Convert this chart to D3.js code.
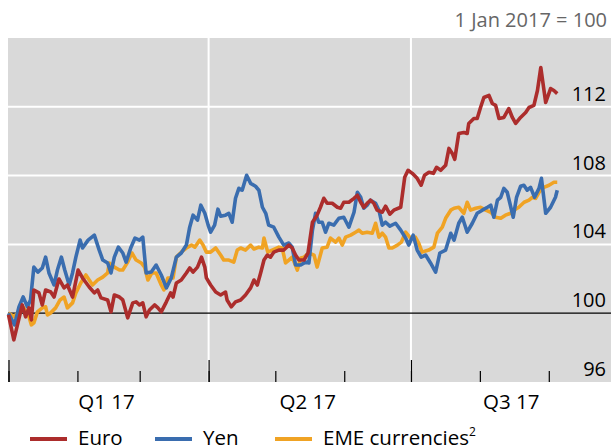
<!DOCTYPE html>
<meta charset="utf-8">
<title>Exchange rates, 1 Jan 2017 = 100</title>
<style>
body { margin: 0; background: #fff; }
svg text { font-family: "Open Sans", sans-serif; }
.ylab { font-size: 20px; fill: #000; text-anchor: end; }
.qlab { font-size: 20.5px; fill: #000; text-anchor: middle; }
.unit { font-size: 20px; fill: #666; text-anchor: end; }
.legend text { font-size: 20.5px; fill: #000; }
</style>
<svg id="chart" width="611" height="447"></svg>
<script src="https://d3js.org/d3.v7.min.js"></script>
<script>

// [days since 1 Jan 2017, index]
var euro = [
  [0,99.90],[2.4,98.45],[6.2,100.48],[7.7,99.79],[9.2,100.31],[10.3,99.61],[11.4,101.35],[13.7,101.18],
  [15.2,100.48],[16.7,101.35],[19.0,101.23],[20.5,100.94],[22.7,101.99],[25.0,101.47],[26.5,101.64],
  [28.8,100.94],[31.3,102.51],[33.3,102.05],[36.3,101.52],[38.6,101.18],[40.1,101.35],[41.6,100.89],
  [44.6,100.77],[46.1,100.08],[47.6,101.06],[49.9,100.94],[51.4,100.77],[53.6,99.73],[55.9,100.60],
  [57.4,100.66],[58.9,100.48],[60.4,100.60],[61.9,99.79],[63.4,100.19],[65.7,100.48],[67.2,100.31],
  [68.7,100.08],[71.0,100.66],[72.9,101.18],[74.0,100.94],[75.5,101.76],[77.7,101.93],[80.0,102.34],
  [81.5,102.63],[83.0,102.39],[85.0,102.68],[86.8,103.26],[88.3,102.68],[89.0,102.05],[90.9,101.64],
  [93.2,101.23],[95.4,101.06],[97.6,101.23],[98.3,100.77],[100.2,100.37],[102.1,100.66],[104.4,100.77],
  [106.6,101.06],[108.9,101.47],[110.4,101.93],[111.9,101.64],[113.4,102.34],[114.9,103.09],[116.4,103.38],
  [117.8,103.26],[119.3,103.55],[121.6,103.67],[123.8,103.67],[126.1,103.96],[127.6,103.79],[129.1,103.38],
  [130.6,103.09],[132.9,103.09],[134.7,103.50],[136.7,105.29],[138.8,105.70],[140.3,106.16],[141.8,106.68],
  [143.3,106.39],[145.6,106.39],[147.9,106.16],[149.4,106.10],[150.8,106.45],[153.1,106.45],[155.4,106.68],
  [156.9,106.86],[158.4,106.45],[159.8,106.16],[161.3,106.39],[162.8,106.57],[164.3,106.39],[165.8,105.99],
  [168.1,105.87],[169.6,106.22],[171.5,105.76],[173.3,105.99],[176.4,106.16],[178.2,107.90],[179.7,108.31],
  [181.6,108.13],[183.8,107.84],[185.6,107.44],[187.1,108.02],[189.1,108.19],[191.1,108.13],[192.5,108.48],
  [194.4,108.31],[196.6,108.60],[198.1,109.58],[199.6,109.29],[200.7,108.95],[202.5,110.45],[204.8,110.51],
  [206.3,110.45],[207.0,111.03],[209.3,111.32],[210.8,111.32],[212.3,111.96],[213.8,112.54],[216.1,112.66],
  [217.6,112.19],[219.1,112.08],[220.6,111.32],[222.8,111.38],[225.0,111.90],[226.6,111.38],[228.1,111.03],
  [230.3,111.38],[232.6,111.67],[234.1,111.96],[236.3,112.08],[237.9,112.95],[239.4,114.28],[241.6,112.25],
  [243.8,113.06],[245.3,112.95],[246.8,112.77]
];

var yen = [
  [0,100.00],[2.7,99.32],[4.7,100.37],[6.6,100.95],[8.5,100.37],[9.9,100.77],[11.4,102.68],[13.2,102.39],
  [15.2,102.63],[16.7,103.26],[18.2,102.34],[20.5,101.64],[22.0,102.51],[23.8,103.26],[25.3,102.51],
  [27.3,101.64],[28.8,102.34],[30.3,103.26],[32.2,104.25],[33.3,103.79],[35.8,104.25],[38.6,104.54],
  [40.8,103.67],[42.4,103.09],[44.6,102.92],[46.1,102.34],[47.6,103.26],[49.4,103.84],[51.4,103.50],
  [52.9,102.97],[55.1,103.84],[56.9,104.37],[58.9,104.25],[60.4,104.42],[61.9,102.34],[64.2,102.39],
  [66.4,102.80],[68.7,102.22],[71.0,101.47],[73.2,102.05],[75.5,103.26],[77.7,103.50],[80.0,103.96],
  [81.5,105.00],[83.0,105.70],[85.0,105.41],[86.5,106.28],[88.3,105.81],[89.8,105.12],[90.9,104.71],
  [92.7,105.12],[94.2,106.05],[95.4,105.64],[97.6,105.70],[99.1,105.81],[100.6,105.29],[102.1,106.68],
  [103.6,107.26],[105.1,107.15],[107.1,108.02],[108.9,107.55],[111.1,107.38],[112.6,107.15],[114.2,106.16],
  [115.7,105.81],[117.0,105.12],[119.3,105.00],[121.6,104.42],[123.8,103.96],[126.1,104.08],[127.6,103.84],
  [129.1,102.80],[131.4,102.80],[133.6,102.97],[135.1,102.92],[136.7,104.83],[138.1,105.81],[139.5,105.29],
  [141.1,105.29],[142.6,104.71],[144.1,105.23],[146.3,105.12],[148.6,105.52],[150.8,105.58],[153.1,105.00],
  [155.4,105.87],[156.9,107.03],[158.4,106.74],[159.8,106.10],[161.3,106.28],[162.8,106.57],[165.1,106.39],
  [166.6,105.99],[168.1,105.12],[169.6,105.29],[171.5,105.06],[174.1,105.23],[176.4,104.83],[178.6,104.37],
  [180.0,103.96],[182.0,104.54],[183.8,103.67],[185.6,103.26],[187.6,103.38],[189.8,102.92],[192.1,102.39],
  [194.0,103.50],[196.6,103.67],[198.9,104.65],[200.4,104.25],[202.5,105.23],[204.1,105.58],[206.3,104.71],
  [208.6,105.23],[210.8,105.81],[213.1,105.99],[215.4,106.16],[216.9,106.28],[218.3,105.58],[219.9,106.57],
  [221.4,106.74],[222.8,107.26],[224.3,107.03],[227.0,105.58],[228.5,106.74],[230.3,107.38],[231.8,107.44],
  [233.3,107.15],[234.8,107.32],[236.6,106.74],[238.6,107.26],[239.7,107.84],[241.6,105.81],[243.8,106.16],
  [246.0,106.74],[246.8,107.15]
];

var eme = [
  [0,100.02],[2.4,99.79],[4.7,100.08],[6.9,100.31],[9.2,99.79],[10.3,99.32],[11.4,99.44],[13.0,100.08],
  [15.2,100.31],[16.7,100.37],[17.5,99.90],[19.0,100.02],[21.2,100.31],[23.2,100.77],[25.0,100.94],
  [26.5,100.31],[28.8,100.60],[30.3,101.18],[32.5,101.76],[34.8,102.22],[36.3,101.93],[37.8,101.64],
  [40.1,101.93],[42.4,102.10],[44.6,102.34],[45.3,102.92],[47.6,102.68],[49.9,102.51],[51.4,102.51],
  [53.6,102.97],[55.5,103.50],[57.4,103.09],[59.7,102.92],[61.2,102.68],[62.7,101.93],[64.5,102.34],
  [66.4,102.34],[68.7,101.64],[69.9,101.35],[71.7,102.05],[74.0,102.05],[75.5,103.26],[77.7,103.55],
  [80.0,103.79],[82.3,103.96],[83.8,103.84],[86.0,104.25],[87.5,103.96],[89.0,103.55],[90.9,103.55],
  [93.2,103.79],[95.4,103.38],[96.8,103.09],[99.1,103.09],[101.3,102.97],[102.9,103.67],[104.4,103.79],
  [106.6,103.67],[108.9,103.96],[110.4,103.73],[112.6,103.84],[114.2,103.79],[114.9,104.37],[116.6,103.55],
  [118.6,103.67],[121.6,103.84],[123.1,103.79],[124.6,102.92],[126.1,103.09],[127.6,103.26],[129.9,102.51],
  [131.4,103.21],[132.9,103.26],[135.1,103.50],[137.4,103.38],[138.8,102.68],[141.1,103.79],[143.3,103.84],
  [144.8,104.37],[147.1,104.13],[148.6,104.37],[150.1,103.96],[151.6,104.42],[153.9,104.54],[156.1,104.71],
  [157.6,104.83],[159.1,104.65],[161.3,104.71],[163.6,104.65],[165.1,105.23],[166.6,104.42],[168.1,104.65],
  [169.6,104.42],[171.1,103.79],[172.6,103.79],[174.9,103.96],[176.7,104.13],[178.6,104.71],[180.8,104.37],
  [183.0,104.42],[184.5,104.08],[186.0,103.55],[189.0,103.67],[191.3,103.84],[192.9,104.65],[195.1,105.00],
  [196.6,105.52],[198.9,105.99],[200.4,106.10],[202.5,106.16],[204.8,105.81],[206.3,106.45],[207.8,105.99],
  [210.1,106.10],[212.3,106.16],[214.6,105.99],[216.9,105.87],[219.1,105.58],[221.4,105.52],[223.5,105.70],
  [225.8,105.81],[227.3,105.99],[229.5,106.16],[231.9,106.45],[234.1,106.57],[235.6,106.74],[237.1,106.68],
  [238.6,107.03],[240.8,107.32],[243.1,107.44],[245.3,107.61],[246.8,107.61]
];

var series = [
  {name: "EME currencies", sup: "2", data: eme, color: "#f0a324"},
  {name: "Yen", data: yen, color: "#3a6daf"},
  {name: "Euro", data: euro, color: "#ac2d2c"}
];
var legendOrder = ["Euro", "Yen", "EME currencies"];
var yTicks = [96, 100, 104, 108, 112];
var quarters = ["Q1 17", "Q2 17", "Q3 17"];

var start = new Date(2017, 0, 1);
var end = new Date(2017, 9, 1);
function dayToDate(d) { return new Date(start.getTime() + d * 864e5); }

var plot = {left: 8, right: 611, top: 38, bottom: 382};

var x = d3.scaleTime()
    .domain([start, end])
    .range([8.5, 615.5]);

var y = d3.scaleLinear()
    .domain([96, 116])
    .range([plot.bottom, plot.top]);

var svg = d3.select("#chart");

svg.append("rect")
    .attr("x", plot.left).attr("y", plot.top)
    .attr("width", plot.right - plot.left)
    .attr("height", plot.bottom - plot.top)
    .attr("fill", "#d9d9d9");

// horizontal grid
svg.selectAll(".hgrid")
    .data(yTicks.filter(function(t) { return t > 100; }))
    .enter().append("line")
    .attr("x1", plot.left).attr("x2", plot.right)
    .attr("y1", function(d) { return y(d); })
    .attr("y2", function(d) { return y(d); })
    .attr("stroke", "#fff").attr("stroke-width", 2);

// vertical grid at quarter starts
var qStarts = d3.timeMonth.every(3).range(start, end);
svg.selectAll(".vgrid")
    .data(qStarts.slice(1))
    .enter().append("line")
    .attr("x1", function(d) { return x(d); })
    .attr("x2", function(d) { return x(d); })
    .attr("y1", plot.top).attr("y2", plot.bottom)
    .attr("stroke", "#fff").attr("stroke-width", 2);

// ticks inside the plot, from the bottom edge
svg.append("g")
    .attr("transform", "translate(0," + plot.bottom + ")")
    .call(d3.axisTop(x).ticks(d3.timeMonth.every(1)).tickSize(11).tickFormat(""))
    .call(function(g) { g.select(".domain").remove(); });

svg.append("g")
    .attr("transform", "translate(0," + plot.bottom + ")")
    .call(d3.axisTop(x).ticks(d3.timeMonth.every(3)).tickSize(22).tickFormat(""))
    .call(function(g) { g.select(".domain").remove(); });

svg.selectAll(".tick line").attr("stroke", "#000").attr("stroke-width", 1.2);

// base line at 100
svg.append("line")
    .attr("x1", plot.left).attr("x2", plot.right)
    .attr("y1", y(100)).attr("y2", y(100))
    .attr("stroke", "#000").attr("stroke-width", 1.3);

var line = d3.line()
    .x(function(d) { return x(dayToDate(d[0])); })
    .y(function(d) { return y(d[1]); });

svg.selectAll(".series")
    .data(series)
    .enter().append("path")
    .attr("d", function(d) { return line(d.data); })
    .attr("fill", "none")
    .attr("stroke", function(d) { return d.color; })
    .attr("stroke-width", 3.6)
    .attr("stroke-linejoin", "round");

// y labels, right side above grid lines
svg.selectAll(".ylab")
    .data(yTicks)
    .enter().append("text")
    .attr("class", "ylab")
    .attr("x", 606)
    .attr("y", function(d) { return y(d) - 6; })
    .text(function(d) { return d; });

// quarter labels
svg.selectAll(".qlab")
    .data(quarters)
    .enter().append("text")
    .attr("class", "qlab")
    .attr("x", function(d, i) { return (x(qStarts[i]) + x(d3.timeMonth.offset(qStarts[i], 3))) / 2 - 2; })
    .attr("y", 409)
    .text(function(d) { return d; });

svg.append("text")
    .attr("class", "unit")
    .attr("x", 607).attr("y", 27)
    .text("1 Jan 2017 = 100");

// legend
var legX = [30, 155, 275];
var leg = svg.append("g").attr("class", "legend");
legendOrder.forEach(function(name, i) {
  var s = series.find(function(d) { return d.name === name; });
  leg.append("line")
      .attr("x1", legX[i]).attr("x2", legX[i] + 37)
      .attr("y1", 439).attr("y2", 439)
      .attr("stroke", s.color).attr("stroke-width", 4);
  var t = leg.append("text")
      .attr("x", legX[i] + 48).attr("y", 445)
      .text(s.name);
  if (s.sup) {
    t.append("tspan").attr("dy", -9).style("font-size", "12px").text(s.sup);
  }
});

</script>
